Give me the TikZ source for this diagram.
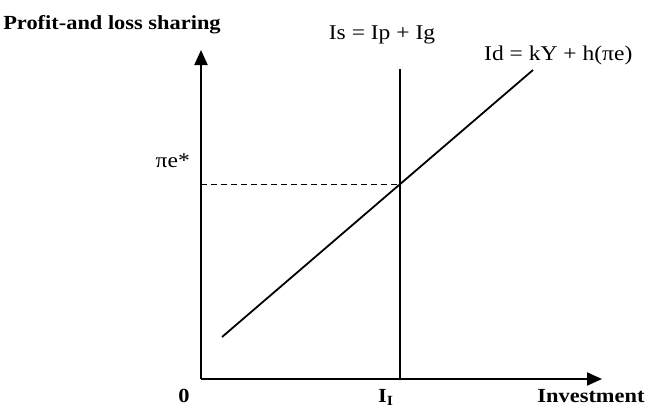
\documentclass[tikz,border=0pt]{standalone}
\usepackage{fontspec}
\setmainfont{Liberation Serif}
\usetikzlibrary{arrows.meta}

\begin{document}
\begin{tikzpicture}[x=1pt, y=-1pt,
  axis/.style={line width=2pt, -{Triangle[length=15pt,width=13pt]}},
  sched/.style={line width=1.8pt},
  lab/.style={inner sep=0pt, xscale=1.12, font=\fontsize{21}{24}\selectfont},
  blab/.style={inner sep=0pt, xscale=1.12, font=\fontsize{20}{23}\selectfont\bfseries}]
\useasboundingbox (0,0) rectangle (649,408);
% axes
\coordinate (O) at (201,379);
\coordinate (ytip) at (201,50);
\coordinate (xtip) at (602,379);
\draw[axis] (O) -- (ytip);
\draw[axis] (O) -- (xtip);
% saving and demand schedules
\coordinate (isbot) at (400,379);
\coordinate (istop) at (400,69);
\coordinate (idbot) at (222,337);
\coordinate (idtop) at (533,70);
\draw[sched] (isbot) -- (istop);
\draw[sched] (idbot) -- (idtop);
\coordinate (eq) at (400,184);
\coordinate (pie) at (201,184);
\draw[line width=1pt, dash pattern=on 6pt off 4pt] (pie) -- (eq);
% labels
\node[blab, anchor=base] (ylab) at (112,29) {Profit-and loss sharing};
\node[lab, anchor=base] (islab) at (382,39) {Is = Ip + Ig};
\node[lab, anchor=base west] (idlab) at (484,60) {Id = kY + h(πe)};
\node[lab, anchor=base east] (pilab) at (190,167) {πe*};
\node[blab, anchor=base] (zero) at (184,402) {0};
\node[blab, anchor=base west] (ilab) at (378,402) {I\textsubscript{I}};
\node[blab, anchor=base] (xlab) at (591,402) {Investment};
\end{tikzpicture}
\end{document}
